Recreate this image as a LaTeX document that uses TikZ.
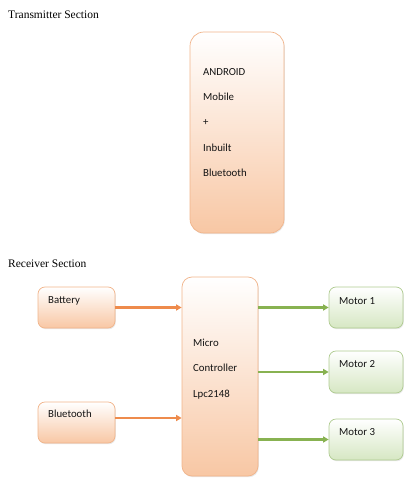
\documentclass[tikz,border=0pt]{standalone}
\usepackage{fontspec}
\setmainfont{Carlito}
\newfontfamily\titlefont{Liberation Serif}
\usetikzlibrary{arrows.meta,shadows}
\definecolor{peach}{HTML}{F8C7A4}
\definecolor{peachline}{HTML}{F1B48A}
\definecolor{leaf}{HTML}{D6E7C3}
\definecolor{leafline}{HTML}{AFCB90}
\definecolor{orangearrow}{HTML}{EE8B4C}
\definecolor{greenarrow}{HTML}{88B251}
\tikzset{
  obox/.style={draw=peachline, line width=0.7pt, top color=white, bottom color=peach,
    drop shadow={opacity=0.18, shadow xshift=0.8pt, shadow yshift=-1.2pt}},
  gbox/.style={draw=leafline, line width=0.7pt, top color=white, bottom color=leaf,
    drop shadow={opacity=0.18, shadow xshift=0.8pt, shadow yshift=-1.2pt}},
  lbl/.style={anchor=west, inner sep=0pt, font=\fontsize{10.8}{12}\selectfont, text=black!92},
  ttl/.style={anchor=west, inner sep=0pt, font=\titlefont\fontsize{11.5}{13}\selectfont},
  oarr/.style={draw=orangearrow, line width=2.1pt, -{Triangle[length=5.5pt,width=6pt]}},
  garr/.style={draw=greenarrow, line width=2.1pt, -{Triangle[length=5.5pt,width=6pt]}}
}
\begin{document}
\begin{tikzpicture}[x=1pt, y=-1pt]
		%%%%% START %%%%%
		\useasboundingbox (0,0) rectangle (404,478);
		
		% transmitter
		\node[ttl] (txtitle) at (8, 15) {Transmitter Section};
		\node[obox, rounded corners=14pt, minimum width=94pt, minimum height=201pt] (phone) at (237, 132.5) {};
		\foreach \t [count=\i] in {ANDROID, Mobile, +, Inbuilt, Bluetooth}
			\node[lbl] (phone\i) at (203, {46.8+25.2*\i}) {\t};
		
		% receiver
		\node[ttl] (rxtitle) at (8, 264) {Receiver Section};
		
		\node[obox, rounded corners=7pt, minimum width=77pt, minimum height=41pt] (batt) at (76.5, 307.5) {};
		\node[lbl] (battlbl) at (48, 301) {Battery};
		
		\node[obox, rounded corners=7pt, minimum width=77pt, minimum height=41pt] (bt) at (76.5, 422.5) {};
		\node[lbl] (btlbl) at (48, 414) {Bluetooth};
		\coordinate (btout) at ([yshift=4.5pt]bt.east);
		
		\node[obox, rounded corners=10pt, minimum width=76pt, minimum height=199pt] (mcu) at (220, 376.5) {};
		\node[lbl] (mcu1) at (193, 343) {Micro};
		\node[lbl] (mcu2) at (193, 368) {Controller};
		\node[lbl] (mcu3) at (193, 395) {Lpc2148};
		
		\node[gbox, rounded corners=7pt, minimum width=74pt, minimum height=41pt] (m1) at (366, 307.5) {};
		\node[lbl] (m1lbl) at (339, 301) {Motor 1};
		\node[gbox, rounded corners=7pt, minimum width=74pt, minimum height=42pt] (m2) at (366, 372) {};
		\node[lbl] (m2lbl) at (339, 364) {Motor 2};
		\node[gbox, rounded corners=7pt, minimum width=74pt, minimum height=41pt] (m3) at (366, 439.5) {};
		\node[lbl] (m3lbl) at (339, 432) {Motor 3};
		
		% arrows
		\draw[oarr] (batt.east) -- (mcu.west |- batt.east);
		\draw[oarr] (btout) -- (mcu.west |- btout);
		\draw[garr] (mcu.east |- m1.west) -- (m1.west);
		\draw[garr] (mcu.east |- m2.west) -- (m2.west);
		\draw[garr] (mcu.east |- m3.west) -- (m3.west);
		
		%%%%% END %%%%%
	\end{tikzpicture}
\end{document}
